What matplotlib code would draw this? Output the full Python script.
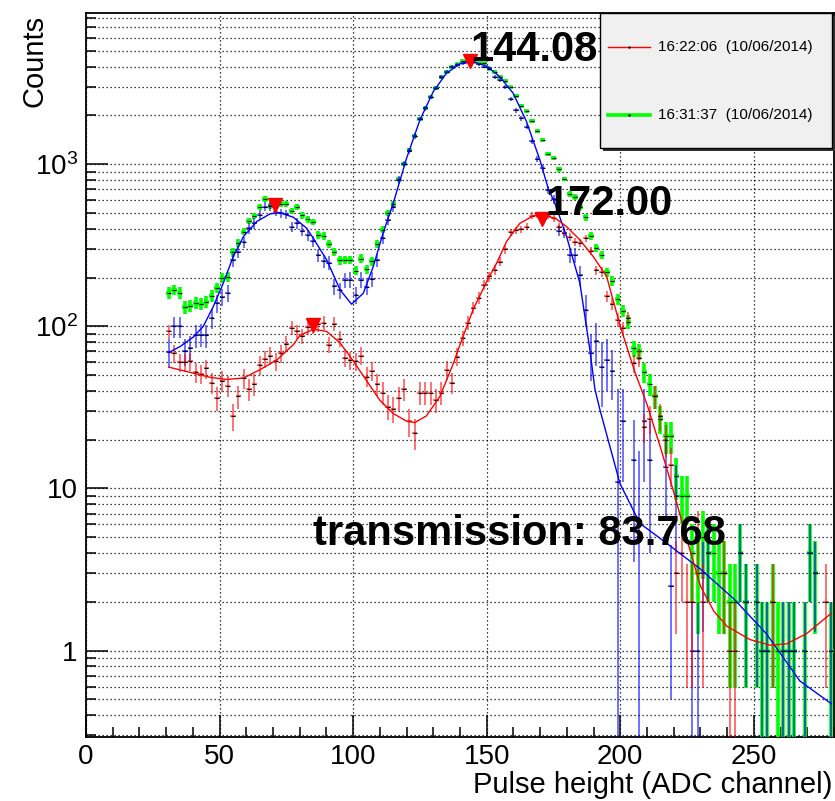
import numpy as np
import matplotlib
matplotlib.use('Agg')
import matplotlib.pyplot as plt
from matplotlib.ticker import FixedLocator, FuncFormatter, NullFormatter
from matplotlib.patches import Rectangle
from matplotlib.lines import Line2D

plt.rcParams['font.family'] = ['Liberation Sans', 'DejaVu Sans']
plt.rcParams['mathtext.default'] = 'regular'

# bin centres (ADC channel, bins of width 2)
bin_centers = np.arange(31, 280, 2)

# 16:31:37 run (green)
green_counts = [
    161, 168, 161, 131, 134, 139, 138, 141, 154, 173,
    198, 201, 286, 328, 384, 447, 480, 547, 608, 553,
    560, 569, 569, 518, 543, 484, 458, 440, 366, 361,
    322, 288, 256, 257, 257, 221, 262, 225, 252, 324,
    394, 500, 572, 808, 1004, 1225, 1495, 1910, 2222, 2588,
    2942, 3441, 3710, 4000, 4155, 4318, 4350, 4276, 4236, 4200,
    3890, 3725, 3441, 3281, 3000, 2650, 2300, 2120, 1850, 1600,
    1413, 1150, 1089, 931, 811, 656, 626, 545, 471, 361,
    305, 277, 215, 190, 147, 125, 107, 73, 70, 52,
    44, 37, 27, 21, 21, 12, 9, 9, 4, 3,
    5, 4, 4, 3, 3, 2, 2, 4, 2, 0,
    2, 1, 1, 2, 1, 1, 1, 1, 0, 1,
    4, 3, 0, 0, 1]

# 16:22:06 run (red)
red_counts = [
    93, 68, 60, 60, 61, 52, 51, 55, 45, 36,
    46, 43, 28, 37, 48, 41, 44, 58, 63, 66,
    61, 68, 78, 98, 93, 87, 99, 100, 103, 105,
    77, 104, 84, 64, 62, 61, 66, 49, 53, 44,
    39, 32, 31, 36, 41, 26, 22, 39, 39, 39,
    35, 39, 54, 45, 65, 85, 105, 130, 150, 180,
    203, 223, 251, 298, 380, 392, 397, 412, 482, 487,
    480, 482, 464, 412, 379, 357, 333, 328, 349, 293,
    222, 217, 153, 138, 110, 97, 112, 59, 64, 24,
    27, 37, 28, 20, 14, 3, 4, 2, 2, 5,
    2, 0, 0, 0, 3, 1, 1, 0, 0, 0,
    0, 0, 0, 2, 0, 0, 0, 0, 0, 0,
    0, 0, 0, 2, 0]

# red run rescaled by the transmission (blue)
blue_counts = [
    69, 100, 100, 70, 74, 88, 89, 88, 112, 139,
    151, 160, 257, 289, 330, 403, 432, 487, 547, 553,
    510, 499, 491, 412, 432, 389, 365, 334, 274, 253,
    246, 177, 167, 193, 194, 156, 194, 175, 196, 255,
    350, 455, 545, 800, 1004, 1215, 1495, 1900, 2215, 2588,
    2942, 3441, 3720, 4000, 4090, 4200, 4300, 4250, 4140, 4000,
    3945, 3441, 3311, 2985, 2517, 2150, 1920, 1700, 1385, 1080,
    945, 694, 608, 389, 379, 275, 275, 206, 127, 68,
    81, 56, 62, 53, 11, 26, 0, 15, 5, 26,
    15, 0, 0, 13.5, 2.5, 9, 0, 0, 1, 1,
    3, 4, 0, 0, 0, 0, 0, 4, 2, 0,
    2, 1, 1, 0, 0, 1, 1, 1, 0, 1,
    4, 3, 0, 0, 1]

blue_errors = [
    14, 15, 15, 13, 13, 14, 14, 14, 16, 18,
    18, 19, 24, 26, 27, 30, 31, 33, 35, 35,
    34, 34, 33, 30, 31, 30, 29, 27, 25, 24,
    24, 20, 19, 21, 21, 19, 21, 20, 21, 24,
    28, 32, 35, 42, 48, 52, 58, 65, 71, 76,
    81, 88, 92, 95, 96, 97, 98, 98, 97, 95,
    94, 88, 86, 82, 75, 70, 66, 62, 56, 49,
    46, 40, 37, 30, 30, 28, 28, 28, 28, 22,
    24, 24, 22, 18, 30, 15, 0, 11.5, 12, 15,
    11, 0, 0, 7, 2, 5, 0, 0, 1, 1,
    1.7, 2, 0, 0, 0, 0, 0, 2, 1.4, 0,
    1.4, 1, 1, 0, 0, 1, 1, 1, 0, 1,
    2, 1.7, 0, 0, 1]

# fit curves
blue_fit_x = [31, 35.2, 40.2, 43.9, 47.6, 51.4, 55.1, 58.9, 63.9, 68.9, 72.6, 77.6,
              82.6, 85.1, 90.1, 95.1, 99.4, 103.8, 107.5, 111.2, 115, 120, 125, 130,
              134.9, 139.9, 144.8, 149.9, 154.9, 159.9, 164.9, 169.9, 173, 175.5,
              179.9, 184.9, 188.6, 190.5, 192.4, 199.9, 207.3, 217.3, 229.8, 242.3,
              254.7, 267.2, 279]
blue_fit_y = [69, 75, 86, 100, 132, 185, 269, 357, 443, 494, 502, 471,
              403, 349, 257, 168, 137, 160, 233, 375, 574, 1089, 1875, 2805,
              3638, 4155, 4295, 4036, 3467, 2742, 1832, 1063, 711, 575,
              358, 184, 72, 41, 30.5, 10.7, 6.1, 4.6, 3.2, 2.1,
              1.27, 0.65, 0.47]

red_fit_x = [31, 39, 46.4, 52.6, 58.9, 65.1, 71.4, 77.6, 80.1, 85.1, 90.1, 95.1,
             100.1, 105.1, 110, 115, 120, 123.1, 127.4, 132.5, 137.5, 140, 145,
             150.6, 153.7, 157.4, 162.4, 167.4, 171.2, 176.2, 179.9, 184.9, 189.9,
             194.9, 200, 205.5, 210, 215, 220, 225, 230, 235, 240, 248.5, 256,
             262.2, 269.7, 279]
red_fit_y = [56, 52, 48.5, 47, 48, 54, 62, 77, 88, 96, 93, 79,
             61, 46, 35, 29, 26, 25.5, 28, 37, 59, 77, 128,
             198, 245, 333, 432, 480, 487, 458, 412, 341, 269,
             203, 100, 52, 33, 18, 9.5, 4.8, 2.5, 1.75, 1.41, 1.17, 1.08,
             1.1, 1.27, 1.7]

# peaks found in the spectra
peak_x = [70.9, 143.6, 84.8, 170.6]
peak_y = [560, 4330, 102, 460]

legend_labels = ['16:22:06  (10/06/2014)', '16:31:37  (10/06/2014)']

x = bin_centers.astype(float)
green = np.array(green_counts, dtype=float)
red = np.array(red_counts, dtype=float)
blue = np.array(blue_counts, dtype=float)
blue_err = np.array(blue_errors, dtype=float)

fig = plt.figure(figsize=(8.35, 8.01), dpi=100)
ax = fig.add_axes([0.1030, 0.0799, 0.8958, 0.9039])
ax.set_yscale('log', nonpositive='clip')
ax.set_xlim(0, 280)
ax.set_ylim(0.293, 8570)


def draw_hist(y, err, color, lw, alpha, z):
    m = y > 0
    ax.errorbar(x[m], y[m], yerr=err[m], xerr=1.0, fmt='none', ecolor=color,
                elinewidth=lw, capsize=0, alpha=alpha, zorder=z)
    ax.plot(x[m], y[m], ls='none', marker='_', ms=3, mew=0.8, color='k', zorder=z + 0.1)


draw_hist(green, np.sqrt(green), '#00ff00', 2.6, 1.0, 3)
draw_hist(blue, blue_err, '#0000ff', 1.3, 0.6, 4)
draw_hist(red, np.sqrt(red), '#ff0000', 1.3, 0.6, 5)

ax.plot(blue_fit_x, blue_fit_y, color='#0000ff', lw=1.0, zorder=6)
ax.plot(red_fit_x, red_fit_y, color='#ff0000', lw=1.0, zorder=6)

ax.plot(peak_x, peak_y, ls='none', marker='v', ms=10, color='#ff0000', zorder=7)

ax.text(144.0, 4355, '144.08', fontsize=30, fontweight='bold', ha='left', va='baseline', zorder=8)
ax.text(172.0, 487, '172.00', fontsize=30, fontweight='bold', ha='left', va='baseline', zorder=8)
ax.text(84.8, 4.5, 'transmission: 83.768', fontsize=30, fontweight='bold', ha='left',
        va='baseline', zorder=8)

# axes styling (ROOT look)
ax.xaxis.set_major_locator(FixedLocator([0, 50, 100, 150, 200, 250]))
ax.xaxis.set_minor_locator(FixedLocator(np.arange(0, 281, 10)))
ax.yaxis.set_major_locator(FixedLocator([1, 10, 100, 1000]))
ax.yaxis.set_minor_locator(FixedLocator(
    [0.3, 0.4, 0.5, 0.6, 0.7, 0.8, 0.9] + [k * 10 ** d for d in range(0, 4) for k in range(2, 10)]))


def ylab(v, pos):
    if v < 50:
        return '%g' % v
    return '$10^{%d}$' % int(round(np.log10(v)))


ax.yaxis.set_major_formatter(FuncFormatter(ylab))
ax.yaxis.set_minor_formatter(NullFormatter())
ax.tick_params(which='both', direction='in', top=False, right=False, width=1.1, labelsize=20)
ax.tick_params(which='major', length=16)
ax.tick_params(which='minor', length=7.5)
ax.tick_params(axis='x', pad=5)
ax.tick_params(axis='y', pad=6)
for s in ax.spines.values():
    s.set_linewidth(1.3)

ax.grid(True, which='major', axis='x', color='k', lw=0.9, ls=(0, (1, 2.2)))
ax.grid(True, which='both', axis='y', color='k', lw=0.9, ls=(0, (1, 2.2)))
ax.set_axisbelow(True)

fig.text(35 / 835, 1 - 15 / 801, 'Counts', rotation=90, ha='center', va='top', fontsize=21)
fig.text(832 / 835, 1 - 785 / 801, 'Pulse height (ADC channel)', ha='right', va='center',
         fontsize=21)


# legend box, drawn by hand in axes fraction
def af(px, py):
    return (px - 86) / 748.0, (737 - py) / 724.0


x0, y0 = af(600, 148)
x1, y1 = af(832, 13)
sx, sy = 3 / 748.0, 3 / 724.0
ax.add_patch(Rectangle((x0 + sx, y0 - sy), x1 - x0, y1 - y0, transform=ax.transAxes,
                       facecolor='#303030', edgecolor='none', clip_on=False, zorder=9))
ax.add_patch(Rectangle((x0, y0), x1 - x0, y1 - y0, transform=ax.transAxes,
                       facecolor='#f0f0f0', edgecolor='k', lw=1.0, clip_on=False, zorder=10))
for label, color, lw, py in [(legend_labels[0], '#ff0000', 1.0, 47),
                             (legend_labels[1], '#00ff00', 2.6, 115)]:
    la, lb = af(608, py)
    lc, _ = af(650, py)
    ax.add_line(Line2D([la, lc], [lb, lb], transform=ax.transAxes, color=color, lw=lw,
                       clip_on=False, zorder=11))
    ax.plot([(la + lc) / 2], [lb], transform=ax.transAxes, marker='.', ms=1.5, color='k',
            clip_on=False, zorder=12)
    tx, _ = af(658, py)
    ax.text(tx, lb, label, transform=ax.transAxes, fontsize=11, ha='left', va='center',
            zorder=12)

fig.savefig('out.png', dpi=100)
